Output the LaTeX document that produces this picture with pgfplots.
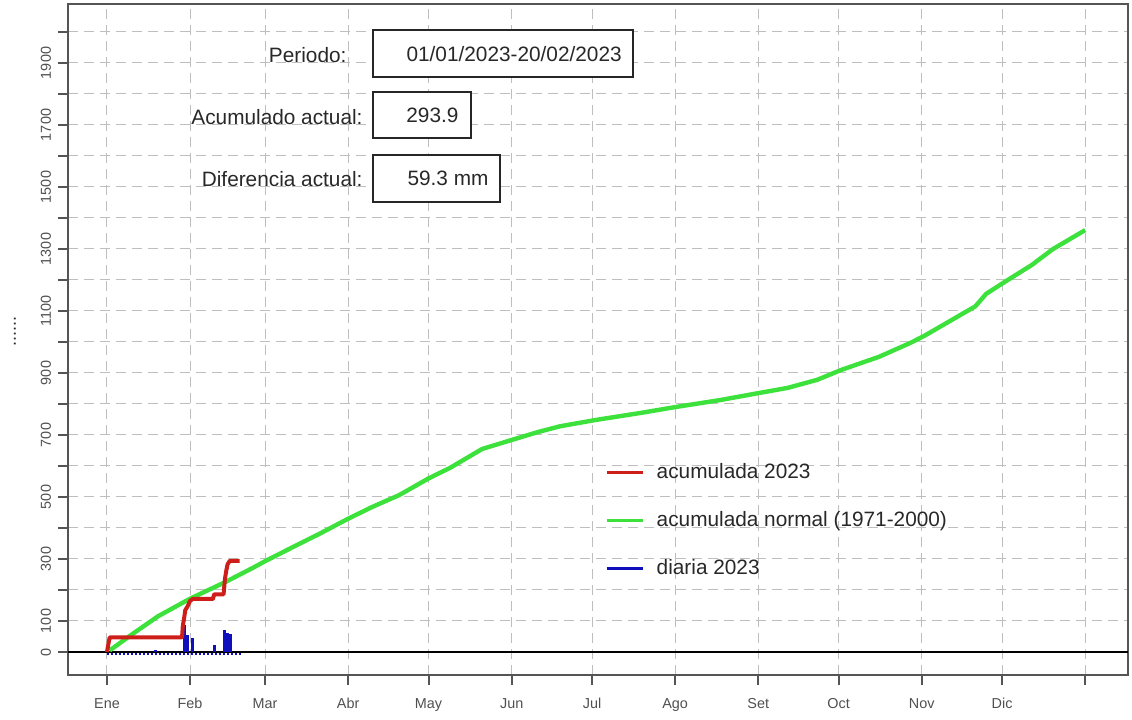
\documentclass[border=0pt]{standalone}
\usepackage{fontspec}
\setmainfont{Liberation Sans}
\usepackage{pgfplots}
\pgfplotsset{compat=1.18}
\definecolor{rgreen}{RGB}{60,225,60}
\definecolor{rred}{RGB}{205,30,25}
\definecolor{rblue}{RGB}{15,15,190}
\definecolor{framegray}{RGB}{85,85,85}
\definecolor{gridgray}{RGB}{190,190,190}
\definecolor{txt}{RGB}{40,40,40}
\definecolor{ticktxt}{RGB}{80,80,80}
\begin{document}
\begin{tikzpicture}
\begin{axis}[
  scale only axis, width=530pt, height=335.5pt,
  xmin=-13.55, xmax=381.97, ymin=-74.2, ymax=2090.3,
  axis line style={framegray, line width=1pt},
  tick align=outside, tick pos=left,
  tick style={framegray, line width=1pt}, major tick length=5pt,
  xtick={1,32,60,91,121,152,182,213,244,274,305,335,366},
  xticklabels={Ene,Feb,Mar,Abr,May,Jun,Jul,Ago,Set,Oct,Nov,Dic,},
  xticklabel style={yshift=-3pt, text height=5.2pt, text depth=1.5pt},
  ytick={0,100,...,2000},
  yticklabels={0,100,,300,,500,,700,,900,,1100,,1300,,1500,,1700,,1900,},
  yticklabel style={rotate=90, anchor=south},
  ticklabel style={font=\fontsize{7.2}{8}\selectfont, text=ticktxt},
  grid=major, major grid style={gridgray, dash pattern=on 5pt off 3pt, line width=0.5pt},
  legend style={at={(axis cs:184.6,635)}, anchor=north west, draw=none, fill=none,
    font=\fontsize{10.4}{12}\selectfont, text=txt, row sep=11pt},
  legend cell align=left, reverse legend,
]
\coordinate (bl) at (rel axis cs:0,0);
\coordinate (tr) at (rel axis cs:1,1);
\coordinate (ml) at (rel axis cs:0,0.5);
\addplot[black, line width=1.3pt, forget plot] coordinates {(-13.55,0) (381.97,0)};
\addplot[rblue, densely dotted, line width=1pt, forget plot] coordinates {(1,-6) (51,-6)};
\addplot[ycomb, rblue, line width=1.5pt,
  legend image code/.code={\path[draw=none] (0pt,0pt) -- (23pt,0pt); \draw[rblue, line width=1.3pt] (0pt,0pt) -- (18pt,0pt);}]
  coordinates {(19,8) (30,86) (31,55) (33,44) (41,22) (45,70) (46,62) (47,58)};
\addlegendentry{diaria 2023}
\addplot[rgreen, line width=2.2pt, line join=round,
  legend image code/.code={\path[draw=none] (0pt,0pt) -- (23pt,0pt); \draw[rgreen, line width=1.3pt] (0pt,0pt) -- (18pt,0pt);}]
  coordinates {(2,5) (10,55) (20,115) (32,172) (45,225) (56,274) (60,293) (73,350) (80,380)
  (91,430) (100,468) (110,506) (121,560) (129,594) (141,655) (152,684) (162,710) (170,728)
  (183,748) (200,771) (213,790) (230,813) (244,835) (255,852) (266,878) (275,910) (289,952)
  (301,998) (306,1020) (316,1070) (325,1115) (329,1155) (336,1194) (346,1248) (354,1300) (366,1361)};
\addlegendentry{acumulada normal (1971-2000)}
\addplot[rred, line width=2pt, line join=round,
  legend image code/.code={\path[draw=none] (0pt,0pt) -- (23pt,0pt); \draw[rred, line width=1.3pt] (0pt,0pt) -- (18pt,0pt);}]
  coordinates {(1,0) (1.5,25) (2,47) (29,47) (29.3,85) (29.8,110) (30.2,135) (31,146) (32,165)
  (33,171) (40.5,171) (41,186) (44.5,186) (45,235) (45.5,262) (46,283) (46.8,294) (50.5,294)};
\addlegendentry{acumulada 2023}
% annotation boxes
\draw[black!85, line width=0.8pt, fill=white] (axis cs:100.25,2006) rectangle (axis cs:197.3,1855);
\draw[black!85, line width=0.8pt, fill=white] (axis cs:100.25,1806) rectangle (axis cs:136.8,1658);
\draw[black!85, line width=0.8pt, fill=white] (axis cs:100.25,1603) rectangle (axis cs:147.6,1452);
\node[anchor=east, inner sep=0pt, font=\fontsize{10.4}{12}\selectfont, text=txt] at (axis cs:193.2,1930) {01/01/2023-20/02/2023};
\node[anchor=east, inner sep=0pt, font=\fontsize{10.4}{12}\selectfont, text=txt] at (axis cs:132.3,1732) {293.9};
\node[anchor=east, inner sep=0pt, font=\fontsize{10.4}{12}\selectfont, text=txt] at (axis cs:143.5,1527) {59.3 mm};
\node[anchor=east, inner sep=0pt, font=\fontsize{10.4}{12}\selectfont, text=txt] at (axis cs:90.5,1925) {Periodo:};
\node[anchor=east, inner sep=0pt, font=\fontsize{10.4}{12}\selectfont, text=txt] at (axis cs:96.5,1725) {Acumulado actual:};
\node[anchor=east, inner sep=0pt, font=\fontsize{10.4}{12}\selectfont, text=txt] at (axis cs:96.5,1525) {Diferencia actual:};
\end{axis}
\node[rotate=90, inner sep=0pt, font=\fontsize{9}{9}\selectfont, text=txt] at ([xshift=-26.5pt,yshift=4pt]ml) {......};
\pgfresetboundingbox
\path[use as bounding box] ([xshift=-34pt,yshift=-22pt]bl) rectangle ([xshift=2pt,yshift=2pt]tr);
\end{tikzpicture}
\end{document}
